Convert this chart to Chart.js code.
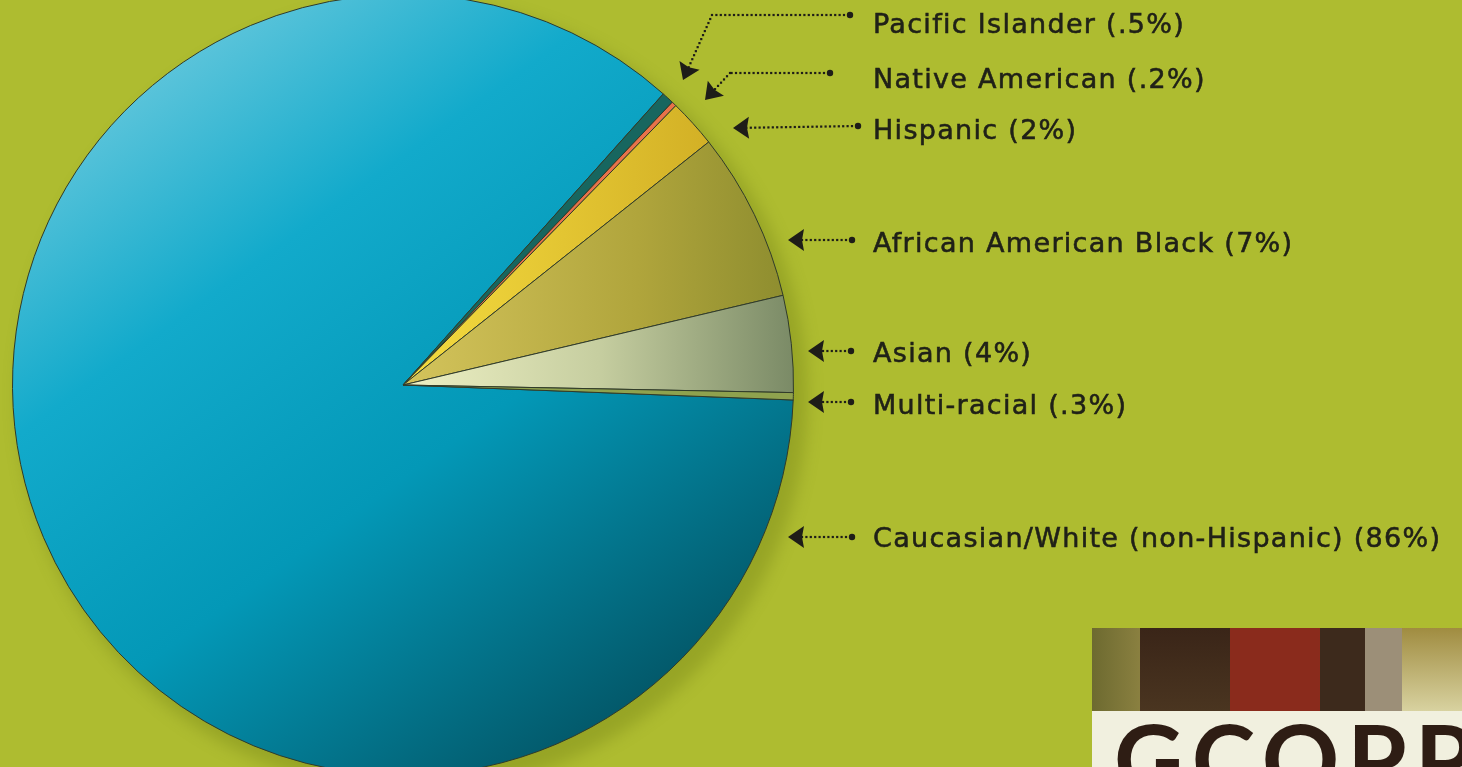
<!DOCTYPE html>
<html>
<head>
<meta charset="utf-8">
<script src="https://cdn.jsdelivr.net/npm/chart.js@4.4.0/dist/chart.umd.min.js"></script>
<style>
  html, body { margin: 0; padding: 0; width: 1462px; height: 767px; overflow: hidden; background: #aebc30; }
  #wrap { position: absolute; left: 0; top: -6px; width: 1462px; height: 782px; }
  .lbl { position: absolute; left: 873px; font-family: "DejaVu Sans", sans-serif; font-size: 27px; letter-spacing: 1.3px; color: #202118; white-space: nowrap; line-height: 1; -webkit-text-stroke: 0.55px #202118; }
  #logo { position: absolute; left: 1092px; top: 628px; width: 370px; height: 139px; background: #f1f0df; overflow: hidden; }
  #logo .bar { position: absolute; top: 0; height: 83px; }
  #logo .txt { position: absolute; left: 22px; top: 81px; font-family: "Lato", sans-serif; font-weight: 700; font-size: 96px; color: #2e1d14; letter-spacing: 8px; line-height: 1; white-space: nowrap; }
</style>
</head>
<body>
<div id="wrap"><canvas id="pie"></canvas></div>
<div id="labels"></div>
<div id="logo">
  <div class="bar" style="left:0;width:48px;background:linear-gradient(90deg,#6d6a30,#8a8040);"></div>
  <div class="bar" style="left:48px;width:90px;background:linear-gradient(180deg,#3a2518,#4a3520);"></div>
  <div class="bar" style="left:138px;width:90px;background:#8a2b1c;"></div>
  <div class="bar" style="left:228px;width:45px;background:#3d2a1c;"></div>
  <div class="bar" style="left:273px;width:37px;background:#9c8f78;"></div>
  <div class="bar" style="left:310px;width:60px;background:linear-gradient(180deg,#a08c40,#d8d2a0);"></div>
  <div class="txt">GCOPP</div>
</div>
<script>
// slices, clockwise from the right edge
const groups = [
  "Caucasian/White (non-Hispanic) (86%)",
  "Pacific Islander (.5%)",
  "Native American (.2%)",
  "Hispanic (2%)",
  "African American Black (7%)",
  "Asian (4%)",
  "Multi-racial (.3%)"
];
const shares = [86, 0.5, 0.2, 2, 7, 4, 0.3];

// label text top (page px) and arrow path: dot end first, tip last
const labelTop = [524, 10, 65, 116, 229, 339, 391];
const arrowPaths = [
  [[852, 537], [788, 537]],
  [[850, 15], [712, 15], [683, 80]],
  [[830, 73], [730, 73], [705, 100]],
  [[858, 126], [733, 128]],
  [[852, 240], [788, 240]],
  [[851, 351], [808, 351]],
  [[851, 402], [808, 402]]
];

const labelBox = document.getElementById("labels");
groups.forEach(function (g, i) {
  const d = document.createElement("div");
  d.className = "lbl";
  d.style.top = labelTop[i] + "px";
  d.textContent = g;
  labelBox.appendChild(d);
});

const yShift = 6; // canvas sits 6px above the page

function sliceFill(ctx) {
  const chart = ctx.chart;
  const area = chart.chartArea;
  if (!area) return "#0aa5c5";
  const c = chart.ctx;
  const i = ctx.dataIndex;
  const cx = (area.left + area.right) / 2, cy = (area.top + area.bottom) / 2;
  const r = (area.right - area.left) / 2;
  let g;
  if (i === 0) {
    g = c.createLinearGradient(cx - r * 0.7, cy - r * 0.9, cx + r * 0.6, cy + r * 0.9);
    g.addColorStop(0, "#6ccade");
    g.addColorStop(0.3, "#12aacb");
    g.addColorStop(0.6, "#0398b7");
    g.addColorStop(1, "#035363");
    return g;
  }
  if (i === 3) {
    g = c.createLinearGradient(cx, 0, cx + r, 0);
    g.addColorStop(0, "#f5dc40");
    g.addColorStop(1, "#c9a41e");
    return g;
  }
  if (i === 4) {
    g = c.createLinearGradient(cx, 0, cx + r, 0);
    g.addColorStop(0, "#d4c45c");
    g.addColorStop(0.6, "#b0a53c");
    g.addColorStop(1, "#8c8c2e");
    return g;
  }
  if (i === 5) {
    g = c.createLinearGradient(cx, 0, cx + r, 0);
    g.addColorStop(0, "#eef0c4");
    g.addColorStop(0.5, "#c6cea0");
    g.addColorStop(1, "#7a8a66");
    return g;
  }
  return ["", "#17665f", "#e8724a", "", "", "", "#8fa24e"][i];
}

const shadowPlugin = {
  id: "shadow",
  beforeDatasetsDraw(chart) {
    const arc = chart.getDatasetMeta(0).data[0];
    if (!arc) return;
    const c = chart.ctx;
    c.save();
    c.filter = "blur(8px)";
    c.fillStyle = "rgba(70,80,0,0.22)";
    c.beginPath();
    c.arc(arc.x + 10, arc.y + 12, arc.outerRadius + 4, 0, Math.PI * 2);
    c.fill();
    c.restore();
  }
};

const arrowPlugin = {
  id: "arrows",
  afterDraw(chart) {
    const c = chart.ctx;
    c.save();
    c.fillStyle = "#1e1d18";
    arrowPaths.forEach(function (p) {
      const pts = p.map(function (q) { return [q[0], q[1] + yShift]; });
      // end dot
      c.beginPath();
      c.arc(pts[0][0], pts[0][1], 3.2, 0, Math.PI * 2);
      c.fill();
      // dotted segments
      for (let s = 0; s < pts.length - 1; s++) {
        const a = pts[s], b = pts[s + 1];
        const len = Math.hypot(b[0] - a[0], b[1] - a[1]);
        const last = s === pts.length - 2;
        const stop = last ? len - 12 : len;
        for (let t = s === 0 ? 6 : 0; t <= stop; t += 4.4) {
          c.fillRect(a[0] + (b[0] - a[0]) * t / len - 1.1, a[1] + (b[1] - a[1]) * t / len - 1.1, 2.2, 2.2);
        }
      }
      // arrow head
      const a = pts[pts.length - 2], b = pts[pts.length - 1];
      const ang = Math.atan2(b[1] - a[1], b[0] - a[0]);
      c.save();
      c.translate(b[0], b[1]);
      c.rotate(ang);
      c.beginPath();
      c.moveTo(0, 0);
      c.lineTo(-16, -11);
      c.lineTo(-14, 0);
      c.lineTo(-16, 11);
      c.closePath();
      c.fill();
      c.restore();
    });
    c.restore();
  }
};

new Chart(document.getElementById("pie"), {
  type: "pie",
  data: {
    labels: groups,
    datasets: [{
      data: shares,
      backgroundColor: sliceFill,
      borderColor: "#2f3a2a",
      borderWidth: 1
    }]
  },
  options: {
    responsive: true,
    maintainAspectRatio: false,
    animation: false,
    rotation: 92.2,
    layout: { padding: { left: 12, right: 668, top: 0, bottom: 0 } },
    plugins: { legend: { display: false }, tooltip: { enabled: false } }
  },
  plugins: [shadowPlugin, arrowPlugin]
});
</script>
</body>
</html>
